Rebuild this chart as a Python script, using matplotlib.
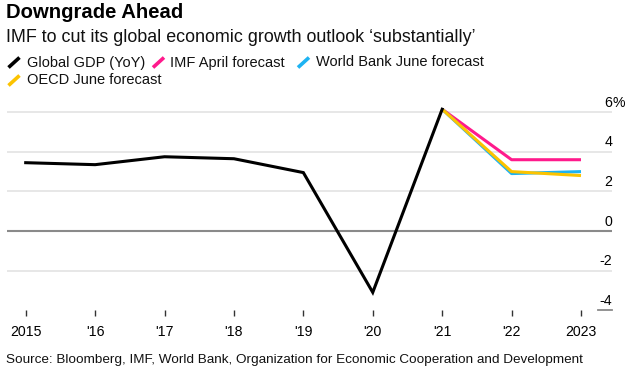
import matplotlib
matplotlib.use("Agg")
import matplotlib.pyplot as plt
from matplotlib.lines import Line2D
import matplotlib.transforms as mtransforms

plt.rcParams['font.family'] = ['Liberation Sans', 'DejaVu Sans']

# ---- data ----
years = [2015, 2016, 2017, 2018, 2019, 2020, 2021]
gdp = [3.45, 3.35, 3.75, 3.65, 2.95, -3.1, 6.15]
fc_years = [2021, 2022, 2023]
imf = [6.15, 3.6, 3.6]
wb = [6.15, 2.9, 3.0]
oecd = [6.15, 3.0, 2.8]
xticks = [2015, 2016, 2017, 2018, 2019, 2020, 2021, 2022, 2023]
xticklabels = ['2015', "'16", "'17", "'18", "'19", "'20", "'21", "'22", '2023']
yticks = [-4, -2, 0, 2, 4, 6]
yticklabels = ['-4', '-2', '0', '2', '4', '6']
legend_labels = ['Global GDP (YoY)', 'IMF April forecast', 'World Bank June forecast', 'OECD June forecast']

BLACK = '#000000'
PINK = '#ff1a8c'
BLUE = '#1eb3f2'
YELLOW = '#fcc300'
colors = [BLACK, PINK, BLUE, YELLOW]

W, H = 629, 372
fig = plt.figure(figsize=(W / 100, H / 100), dpi=100)

def fx(px):
    return px / W

def fy(py):
    return 1 - py / H

# axes placement (pixels)
ax_left, ax_right = 7.3, 612.3
ax_bottom = 310.2
y0_px = 231.0
ppu = 19.8
ymin = -4
ymax = (y0_px - 100) / ppu
ax_top = y0_px - ymax * ppu

ax = fig.add_axes([fx(ax_left), fy(ax_bottom), fx(ax_right - ax_left), (ax_bottom - ax_top) / H])
xmin = 2015 - (25.7 - ax_left) / 69.4
xmax = 2023 + (ax_right - 581.0) / 69.4
ax.set_xlim(xmin, xmax)
ax.set_ylim(ymin, ymax)

for s in ax.spines.values():
    s.set_visible(False)

# gridlines
for t in yticks:
    if t == 0:
        ax.axhline(0, color='#8a8a8a', lw=1.5, zorder=1)
    elif t == ymin:
        ax.axhline(t, xmin=(597.7 - ax_left) / (ax_right - ax_left), xmax=1, color='#8a8a8a', lw=1.3, zorder=1, clip_on=False)
    else:
        ax.axhline(t, color='#e3e3e3', lw=1.2, zorder=1)

# lines
ax.plot(fc_years, imf, color=PINK, lw=2.2, zorder=3, solid_capstyle='butt')
ax.plot(fc_years, wb, color=BLUE, lw=2.2, zorder=4, solid_capstyle='butt')
ax.plot(fc_years, oecd, color=YELLOW, lw=2.2, zorder=5, solid_capstyle='butt')
ax.plot(years, gdp, color=BLACK, lw=2.2, zorder=6, solid_joinstyle='miter')

# x ticks
ax.set_xticks(xticks)
ax.set_xticklabels(xticklabels, fontsize=10.2, color='#000000')
ax.tick_params(axis='x', length=4, width=1, color='#333333', pad=7, direction='out')
ax.set_yticks([])

# y labels on right, above gridlines
offset = mtransforms.offset_copy(ax.get_yaxis_transform(), fig=fig, x=0, y=5.5, units='dots')
for t, lab in zip(yticks, yticklabels):
    ax.text(1.0, t, lab, transform=offset, ha='right', va='baseline', fontsize=10.2, color='#000000', clip_on=False)
    if t == 6:
        ax.text(1.0, t, '%', transform=offset, ha='left', va='baseline', fontsize=10.2, color='#000000', clip_on=False)

# titles
fig.text(fx(6.5), fy(12), 'Downgrade Ahead', fontsize=14.6, fontweight='bold', ha='left', va='center')
fig.text(fx(6), fy(37), 'IMF to cut its global economic growth outlook \u2018substantially\u2019',
         fontsize=12.9, ha='left', va='center', color='#111111')

# legend
rows = [62.5, 62.5, 62.5, 80.5]
hx = [7.5, 152, 297, 7.5]
tx = [26.7, 170, 315.7, 26.7]
for lab, c, ry, h, t in zip(legend_labels, colors, rows, hx, tx):
    fig.add_artist(Line2D([fx(h + 1), fx(h + 12)], [fy(ry + 5), fy(ry - 5)], color=c, lw=2.6,
                          transform=fig.transFigure, solid_capstyle='butt'))
    fig.text(fx(t), fy(ry), lab, fontsize=10.5, ha='left', va='center', color='#111111')

# source
fig.text(fx(6.5), fy(360), 'Source: Bloomberg, IMF, World Bank, Organization for Economic Cooperation and Development',
         fontsize=9.7, ha='left', va='center', color='#111111')

fig.savefig('out.png', dpi=100)
